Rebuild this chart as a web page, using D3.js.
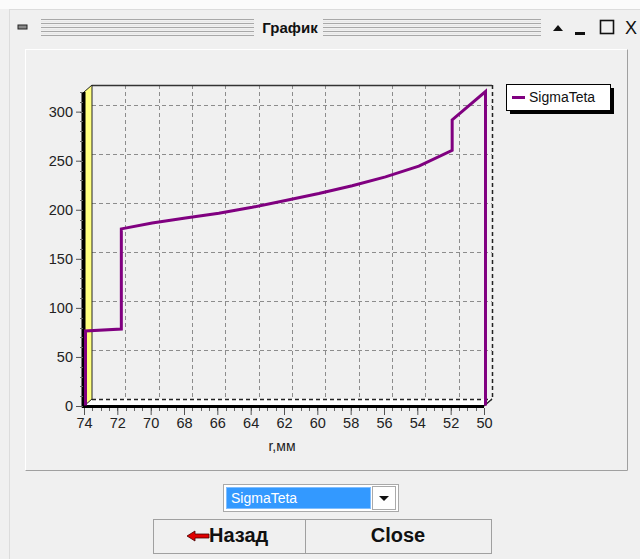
<!DOCTYPE html>
<html>
<head>
<meta charset="utf-8">
<title>График</title>
<style>
  body { margin: 0; background: #f0f0f0; }
  text { font-family: "Liberation Sans", Arial, sans-serif; }
</style>
</head>
<body>
<div id="plot"></div>
<script src="https://cdn.jsdelivr.net/npm/d3@7/dist/d3.min.js"></script>
<script>
// values
let rValues     = [74, 74, 71.85, 71.85, 70, 68, 66, 64, 62, 60, 58, 56, 54, 52, 52, 50, 50];
let sigmaValues = [0, 76, 78, 180, 186, 191, 196, 202, 209, 216, 224, 233, 244, 260, 291, 320, 0];
let xTicks = [74, 72, 70, 68, 66, 64, 62, 60, 58, 56, 54, 52, 50];
let yTicks = [0, 50, 100, 150, 200, 250, 300];
let seriesName = 'SigmaTeta';
let xTitle = 'r,мм';

let W = 640, H = 559;
let pLeft = 84, pRight = 484, pTop = 92, pBottom = 406;
let dx = 8, dy = -7;   // 3D depth of the back wall

let svg = d3.select('#plot').append('svg')
  .attr('width', W).attr('height', H);

function translate(x, y) { return 'translate(' + x + ',' + y + ')'; }

// ---------- window chrome ----------
svg.append('rect').attr('x', 0).attr('y', 0).attr('width', W).attr('height', 9).attr('fill', '#fbfbfb');
svg.append('line').attr('x1', 9).attr('x2', W).attr('y1', 9.5).attr('y2', 9.5).attr('stroke', '#dcdcdc');
svg.append('line').attr('x1', 9.5).attr('x2', 9.5).attr('y1', 9).attr('y2', H).attr('stroke', '#dcdcdc');

// title bar grips
let grip = svg.append('g');
[[41, 254], [323, 541]].forEach(function(seg) {
  for (let i = 0; i < 9; i++) {
    grip.append('line')
      .attr('x1', seg[0]).attr('x2', seg[1])
      .attr('y1', 19.5 + i * 2).attr('y2', 19.5 + i * 2)
      .attr('stroke', i % 2 ? '#e8e8e8' : '#a8a8a8');
  }
});
svg.append('text').attr('x', 290).attr('y', 33).attr('text-anchor', 'middle')
  .style('font-size', '15px').style('font-weight', 'bold').attr('fill', '#111').text('График');
svg.append('rect').attr('x', 18).attr('y', 25).attr('width', 9).attr('height', 4)
  .attr('fill', '#888').attr('stroke', '#222');
svg.append('path').attr('d', 'M553,31 L558,25 L563,31 Z').attr('fill', '#111');
svg.append('rect').attr('x', 575).attr('y', 32).attr('width', 10).attr('height', 3).attr('fill', '#111');
svg.append('rect').attr('x', 600.5).attr('y', 20.5).attr('width', 13).attr('height', 13)
  .attr('fill', 'none').attr('stroke', '#111').attr('stroke-width', 1.6);
svg.append('text').attr('x', 631).attr('y', 34).attr('text-anchor', 'middle')
  .style('font-size', '18px').attr('fill', '#111').text('X');

// chart panel
svg.append('rect').attr('x', 25.5).attr('y', 49.5).attr('width', 602).attr('height', 421)
  .attr('fill', '#f0f0f0').attr('stroke', '#fff');
svg.append('path').attr('d', 'M25.5,470.5 H627.5 V49.5').attr('fill', 'none').attr('stroke', '#a0a0a0');

// ---------- chart ----------
let x = d3.scaleLinear().domain([74, 50]).range([pLeft, pRight]);
let y = d3.scaleLinear().domain([0, 320]).range([pBottom, pTop]);

let chart = svg.append('g');

// back wall
chart.append('rect')
  .attr('x', pLeft + dx).attr('y', pTop + dy)
  .attr('width', pRight - pLeft).attr('height', pBottom - pTop)
  .attr('fill', '#f0f0f0');

// gridlines on the back wall
chart.append('g').selectAll('line')
  .data(yTicks.filter(d => d > 0)).enter().append('line')
  .attr('x1', pLeft + dx).attr('x2', pRight + dx)
  .attr('y1', d => Math.round(y(d)) + dy + 0.5).attr('y2', d => Math.round(y(d)) + dy + 0.5)
  .attr('stroke', '#8c8c8c').attr('stroke-dasharray', '4,3');
chart.append('g').selectAll('line')
  .data(xTicks.filter(d => d !== 74 && d !== 50)).enter().append('line')
  .attr('x1', d => Math.round(x(d)) + dx + 0.5).attr('x2', d => Math.round(x(d)) + dx + 0.5)
  .attr('y1', pTop + dy).attr('y2', pBottom + dy)
  .attr('stroke', '#8c8c8c').attr('stroke-dasharray', '4,3');

// back wall frame: solid top, dashed right and bottom
chart.append('line').attr('x1', pLeft + dx).attr('x2', pRight + dx)
  .attr('y1', pTop + dy + 0.5).attr('y2', pTop + dy + 0.5).attr('stroke', '#333').attr('stroke-width', 1.5);
chart.append('line').attr('x1', pRight + dx + 0.5).attr('x2', pRight + dx + 0.5)
  .attr('y1', pTop + dy).attr('y2', pBottom + dy)
  .attr('stroke', '#222').attr('stroke-width', 1.5).attr('stroke-dasharray', '4,3');

// floor
chart.append('path')
  .attr('d', 'M' + pLeft + ',' + pBottom + ' L' + (pLeft + dx) + ',' + (pBottom + dy) +
             ' H' + (pRight + dx) + ' L' + pRight + ',' + pBottom + ' Z')
  .attr('fill', '#fff');
chart.append('line').attr('x1', pLeft + dx).attr('x2', pRight + dx)
  .attr('y1', pBottom + dy + 0.5).attr('y2', pBottom + dy + 0.5)
  .attr('stroke', '#222').attr('stroke-width', 1.5).attr('stroke-dasharray', '4,3');
chart.append('line').attr('x1', pRight).attr('x2', pRight + dx)
  .attr('y1', pBottom).attr('y2', pBottom + dy)
  .attr('stroke', '#222').attr('stroke-width', 1.5);

// left wall (yellow)
chart.append('path')
  .attr('d', 'M' + pLeft + ',' + pTop + ' L' + (pLeft + dx) + ',' + (pTop + dy) +
             ' V' + (pBottom + dy) + ' L' + pLeft + ',' + pBottom + ' Z')
  .attr('fill', '#ffff80').attr('stroke', '#222').attr('stroke-width', 1);

// front edges: thick black
chart.append('line').attr('x1', pLeft - 0.5).attr('x2', pLeft - 0.5)
  .attr('y1', pTop).attr('y2', pBottom + 1.5)
  .attr('stroke', '#000').attr('stroke-width', 4);
chart.append('line').attr('x1', pLeft - 2).attr('x2', pRight)
  .attr('y1', pBottom + 0.5).attr('y2', pBottom + 0.5)
  .attr('stroke', '#000').attr('stroke-width', 3);

// data line
let line = d3.line()
  .x(d => x(d[0]) + 1.5)
  .y(d => y(d[1]) - 0.5);
chart.append('path')
  .datum(rValues.map((r, i) => [r, sigmaValues[i]]))
  .attr('d', line)
  .attr('fill', 'none')
  .attr('stroke', '#800080')
  .attr('stroke-width', 3)
  .attr('stroke-linejoin', 'miter');

// axes
let yMinor = d3.range(0, 321, 10);
chart.append('g').selectAll('line')
  .data(yMinor).enter().append('line')
  .attr('x1', pLeft - 4).attr('x2', pLeft - 1)
  .attr('y1', d => Math.round(y(d)) + 0.5).attr('y2', d => Math.round(y(d)) + 0.5)
  .attr('stroke', '#666');
let yAxis = d3.axisLeft(y).tickValues(yTicks).tickSize(5).tickPadding(3);
chart.append('g')
  .attr('transform', translate(pLeft - 3, 0))
  .call(yAxis)
  .call(g => g.select('.domain').remove())
  .call(g => g.selectAll('line').attr('stroke', '#555'))
  .call(g => g.selectAll('text').style('font-size', '14.5px').attr('fill', '#222')
    .style('font-family', '"Liberation Sans", Arial, sans-serif'));

let xMinor = d3.range(50, 74.01, 0.5);
chart.append('g').selectAll('line')
  .data(xMinor).enter().append('line')
  .attr('x1', d => Math.round(x(d)) + 0.5).attr('x2', d => Math.round(x(d)) + 0.5)
  .attr('y1', pBottom + 2).attr('y2', pBottom + 5)
  .attr('stroke', '#666');
let xAxis = d3.axisBottom(x).tickValues(xTicks).tickSize(7).tickPadding(3);
chart.append('g')
  .attr('transform', translate(0, pBottom + 2))
  .call(xAxis)
  .call(g => g.select('.domain').remove())
  .call(g => g.selectAll('line').attr('stroke', '#555'))
  .call(g => g.selectAll('text').style('font-size', '14.5px').attr('fill', '#222')
    .style('font-family', '"Liberation Sans", Arial, sans-serif'));

chart.append('text')
  .attr('x', (pLeft + pRight) / 2 - 2).attr('y', 451)
  .attr('text-anchor', 'middle')
  .style('font-size', '14px').attr('fill', '#222')
  .text(xTitle);

// legend
let legend = svg.append('g').attr('transform', translate(506, 84));
legend.append('rect').attr('x', 4).attr('y', 4).attr('width', 104).attr('height', 26).attr('fill', '#000');
legend.append('rect').attr('x', 0.5).attr('y', 0.5).attr('width', 104).attr('height', 26)
  .attr('fill', '#fff').attr('stroke', '#000');
legend.append('line').attr('x1', 6).attr('x2', 19).attr('y1', 13.5).attr('y2', 13.5)
  .attr('stroke', '#800080').attr('stroke-width', 3);
legend.append('text').attr('x', 23).attr('y', 18).style('font-size', '14px').attr('fill', '#111')
  .text(seriesName);

// ---------- controls ----------
let combo = svg.append('g').attr('transform', translate(223, 484));
combo.append('rect').attr('x', 0.5).attr('y', 0.5).attr('width', 175).attr('height', 27)
  .attr('fill', '#fff').attr('stroke', '#a9a9a9');
combo.append('rect').attr('x', 3).attr('y', 3).attr('width', 145).attr('height', 22).attr('fill', '#3399ff');
combo.append('rect').attr('x', 3.5).attr('y', 3.5).attr('width', 144).attr('height', 21)
  .attr('fill', 'none').attr('stroke', '#cfe3ff').attr('stroke-dasharray', '1,1');
combo.append('text').attr('x', 8).attr('y', 19).style('font-size', '14px').attr('fill', '#fff').text(seriesName);
combo.append('rect').attr('x', 149.5).attr('y', 2.5).attr('width', 23).attr('height', 23)
  .attr('fill', '#fff').attr('stroke', '#aaa');
combo.append('path').attr('d', 'M156,12 L166,12 L161,17 Z').attr('fill', '#111');

let buttons = svg.append('g').attr('transform', translate(153, 519));
buttons.append('rect').attr('x', 0.5).attr('y', 0.5).attr('width', 152).attr('height', 34)
  .attr('fill', '#f0f0f0').attr('stroke', '#a0a0a0');
buttons.append('rect').attr('x', 152.5).attr('y', 0.5).attr('width', 186).attr('height', 34)
  .attr('fill', '#f0f0f0').attr('stroke', '#a0a0a0');
buttons.append('path').attr('d', 'M34,17 L42,12 L42,15 L56,15 L56,19 L42,19 L42,22 Z')
  .attr('fill', '#e00000').attr('stroke', '#400').attr('stroke-width', 0.8);
buttons.append('text').attr('x', 56).attr('y', 23).style('font-size', '20px').style('font-weight', 'bold')
  .attr('fill', '#111').text('Назад');
buttons.append('text').attr('x', 245).attr('y', 23).attr('text-anchor', 'middle')
  .style('font-size', '20px').style('font-weight', 'bold').attr('fill', '#111').text('Close');
</script>
</body>
</html>
